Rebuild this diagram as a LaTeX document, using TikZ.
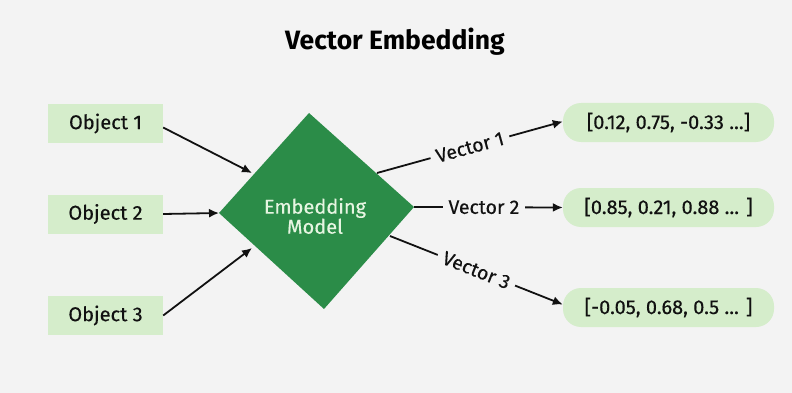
\documentclass[tikz,border=0pt]{standalone}
\usepackage{fontspec}
\setmainfont{Fira Sans}
\newfontfamily\heavy{Fira Sans}[FakeBold=0.35]
\usetikzlibrary{arrows.meta}
\definecolor{bg}{HTML}{F3F3F3}
\definecolor{boxgreen}{HTML}{D5EDCB}
\definecolor{dgreen}{HTML}{2B8C48}
\definecolor{txt}{HTML}{111111}
\definecolor{lighttxt}{HTML}{E6F5E1}
\begin{document}
\begin{tikzpicture}[x=1pt,y=-1pt,
  objbox/.style={fill=boxgreen, minimum width=115pt, minimum height=39pt, inner sep=0pt, text=txt, font=\heavy\fontsize{20}{22}\selectfont},
  vecbox/.style={fill=boxgreen, rounded corners=18pt, minimum width=211pt, minimum height=39pt, inner sep=0pt, text=txt, font=\heavy\fontsize{20}{22}\selectfont},
  arr/.style={line width=1.8pt, draw=txt, -{Latex[length=10pt,width=9pt]}},
  lab/.style={fill=bg, inner xsep=6pt, inner ysep=1pt, text=txt, font=\heavy\fontsize{19.5}{22}\selectfont}
]
\fill[bg] (0,0) rectangle (792,393);
\useasboundingbox (0,0) rectangle (792,393);

\node[font=\bfseries\fontsize{26.5}{30}\selectfont, text=black] (title) at (395,42) {Vector Embedding};

\node[objbox] (o1) at (105.5,123.5) {Object 1};
\node[objbox] (o2) at (105.5,214) {Object 2};
\node[objbox] (o3) at (105.5,315.5) {Object 3};

\coordinate (dT) at (309,113);
\coordinate (dR) at (414,207);
\coordinate (dB) at (324,309);
\coordinate (dL) at (219,213);
\fill[dgreen] (dT) -- (dR) -- (dB) -- (dL) -- cycle;
\node[align=center, text=lighttxt, font=\heavy\fontsize{20}{20}\selectfont] (model) at (315,216) {Embedding\\Model};

\node[vecbox] (v1) at (668.5,122.5) {[0.12, 0.75, -0.33 ...]};
\node[vecbox] (v2) at (668.5,207.5) {[0.85, 0.21, 0.88 ... ]};
\node[vecbox] (v3) at (668.5,307.5) {[-0.05, 0.68, 0.5 ... ]};

\coordinate (in1) at (252,173);
\coordinate (in3) at (252,248);
\coordinate (out1) at (377,173);
\coordinate (out3) at (390,236);

\draw[arr] ([yshift=-4pt]o1.east) -- (in1);
\draw[arr] (o2.east) -- (dL);
\draw[arr] (o3.east) -- (in3);

\draw[arr] (out1) -- node[lab, sloped] {Vector 1} ([yshift=1pt]v1.west);
\draw[arr] (dR) -- node[lab, pos=0.47] {Vector 2} (v2.west);
\draw[arr] (out3) -- node[lab, sloped] {Vector 3} ([yshift=3pt]v3.west);
\end{tikzpicture}
\end{document}
